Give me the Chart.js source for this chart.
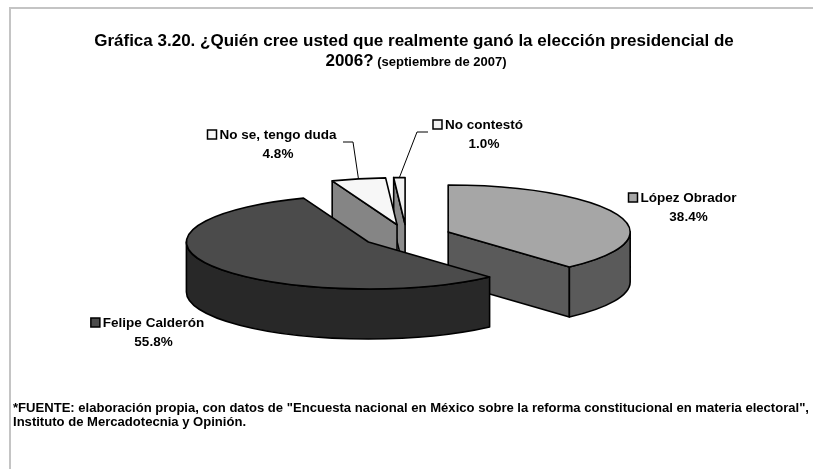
<!DOCTYPE html>
<html>
<head>
<meta charset="utf-8">
<script src="https://cdn.jsdelivr.net/npm/chart.js@4.4.1/dist/chart.umd.min.js"></script>
<style>
  html, body { margin: 0; padding: 0; background: #ffffff; overflow: hidden; }
  canvas { display: block; }
</style>
</head>
<body>
<canvas id="chart" width="813" height="469"></canvas>
<script>
// Survey answers, September 2007
const categories = ['López Obrador', 'Felipe Calderón', 'No se, tengo duda', 'No contestó'];
const shares = [38.4, 55.8, 4.8, 1.0];
const topColors = ['#a6a6a6', '#4b4b4b', '#f7f7f7', '#f2f2f2'];
const sideColors = ['#5a5a5a', '#282828', '#858585', '#8c8c8c'];

const titleLine1 = 'Gráfica 3.20. ¿Quién cree usted que realmente ganó la elección presidencial de';
const titleYear = '2006?';
const titleDate = ' (septiembre de 2007)';
const sourceLines = [
  '*FUENTE: elaboración propia, con datos de "Encuesta nacional en México sobre la reforma constitucional en materia electoral",',
  'Instituto de Mercadotecnia y Opinión.'
];

const FONT = "'Liberation Sans', Arial, sans-serif";

// Draws text starting at x, stretched horizontally by sx
function stretchedText(ctx, text, x, y, sx) {
  ctx.save();
  ctx.translate(x, y);
  ctx.scale(sx, 1);
  ctx.textAlign = 'left';
  ctx.fillText(text, 0, 0);
  ctx.restore();
}

// White page with the grey frame, title and source note
const framePlugin = {
  id: 'frame',
  beforeDraw(chart) {
    const ctx = chart.ctx;
    ctx.save();
    ctx.fillStyle = '#ffffff';
    ctx.fillRect(0, 0, chart.width, chart.height);
    ctx.strokeStyle = '#c4c4c4';
    ctx.lineWidth = 2;
    ctx.strokeRect(10, 8, chart.width + 20, chart.height + 20);
    ctx.restore();
  },
  afterDraw(chart) {
    const ctx = chart.ctx;
    ctx.save();
    ctx.fillStyle = '#000000';
    ctx.textBaseline = 'alphabetic';
    ctx.textAlign = 'center';
    ctx.font = 'bold 17px ' + FONT;
    ctx.fillText(titleLine1, 414, 46);
    // second line mixes two sizes
    ctx.font = 'bold 17px ' + FONT;
    const w1 = ctx.measureText(titleYear).width;
    ctx.font = 'bold 13px ' + FONT;
    const w2 = ctx.measureText(titleDate).width;
    const x0 = 416 - (w1 + w2) / 2;
    ctx.textAlign = 'left';
    ctx.font = 'bold 17px ' + FONT;
    ctx.fillText(titleYear, x0, 66);
    ctx.font = 'bold 13px ' + FONT;
    ctx.fillText(titleDate, x0 + w1, 66);
    // source note, set to span the width of the frame
    ctx.font = 'bold 12px ' + FONT;
    const sw = ctx.measureText(sourceLines[0]).width;
    const sx = 796 / sw;
    stretchedText(ctx, sourceLines[0], 13, 412, sx);
    stretchedText(ctx, sourceLines[1], 13, 426, sx);
    ctx.restore();
  }
};

// Extruded, exploded pie built from the arc elements computed by Chart.js
function drawSlice(ctx, s, top, side, depth, lw) {
  const px = t => s.cx + s.rx * Math.cos(t);
  const py = t => s.cy + s.ry * Math.sin(t);
  ctx.save();
  ctx.lineWidth = lw;
  ctx.strokeStyle = '#000000';
  ctx.lineJoin = 'round';
  const cutFace = t => {
    ctx.beginPath();
    ctx.moveTo(s.cx, s.cy);
    ctx.lineTo(px(t), py(t));
    ctx.lineTo(px(t), py(t) + depth);
    ctx.lineTo(s.cx, s.cy + depth);
    ctx.closePath();
    ctx.fillStyle = side;
    ctx.fill();
    ctx.stroke();
  };
  if (Math.cos(s.a) < -1e-6) cutFace(s.a);
  if (Math.cos(s.b) > 1e-6) cutFace(s.b);
  // outer wall on the near half of the ellipse
  [[0, Math.PI], [2 * Math.PI, 3 * Math.PI]].forEach(([lo, hi]) => {
    const u = Math.max(lo, s.a), v = Math.min(hi, s.b);
    if (v - u > 1e-6) {
      ctx.beginPath();
      ctx.ellipse(s.cx, s.cy, s.rx, s.ry, 0, u, v);
      ctx.lineTo(px(v), py(v) + depth);
      ctx.ellipse(s.cx, s.cy + depth, s.rx, s.ry, 0, v, u, true);
      ctx.closePath();
      ctx.fillStyle = side;
      ctx.fill();
      ctx.stroke();
    }
  });
  // top face
  ctx.beginPath();
  ctx.moveTo(s.cx, s.cy);
  ctx.ellipse(s.cx, s.cy, s.rx, s.ry, 0, s.a, s.b);
  ctx.closePath();
  ctx.fillStyle = top;
  ctx.fill();
  ctx.stroke();
  ctx.restore();
}

const pie3dPlugin = {
  id: 'pie3d',
  beforeDatasetDraw(chart, args, opts) {
    const ctx = chart.ctx;
    const ds = chart.data.datasets[args.index];
    const slices = args.meta.data.map((arc, i) => {
      const p = arc.getProps(['x', 'y', 'startAngle', 'endAngle', 'outerRadius'], true);
      const mid = (p.startAngle + p.endAngle) / 2;
      const rx = p.outerRadius, ry = p.outerRadius * opts.tilt;
      return {
        i, mid, rx, ry, a: p.startAngle, b: p.endAngle,
        cx: p.x + Math.cos(mid) * opts.explode,
        cy: p.y + Math.sin(mid) * opts.explode * opts.tilt
      };
    });
    slices.slice()
      .sort((p, q) => Math.sin(p.mid) - Math.sin(q.mid))
      .forEach(s => drawSlice(ctx, s, ds.backgroundColor[s.i], opts.sideColors[s.i], opts.depth, opts.lineWidth));
    chart.$slices = slices;
    return false;
  },
  afterDatasetsDraw(chart, args, opts) {
    const ctx = chart.ctx;
    const ds = chart.data.datasets[0];
    const slices = chart.$slices || [];
    ctx.save();
    slices.forEach(s => {
      const lab = opts.labels[s.i];
      const name = chart.data.labels[s.i];
      const value = ds.data[s.i].toFixed(1) + '%';
      // leader line to the middle of the slice rim
      if (lab.leader) {
        ctx.beginPath();
        ctx.strokeStyle = '#000000';
        ctx.lineWidth = 1;
        ctx.moveTo(lab.leader[0][0], lab.leader[0][1]);
        for (let k = 1; k < lab.leader.length; k++) ctx.lineTo(lab.leader[k][0], lab.leader[k][1]);
        ctx.lineTo(s.cx + s.rx * Math.cos(s.mid), s.cy + s.ry * Math.sin(s.mid));
        ctx.stroke();
      }
      ctx.font = 'bold 13.5px ' + FONT;
      ctx.fillStyle = '#000000';
      ctx.textAlign = 'center';
      ctx.textBaseline = 'alphabetic';
      const w = ctx.measureText(name).width;
      ctx.fillText(name, lab.x, lab.y);
      ctx.fillText(value, lab.x, lab.y + opts.lineGap);
      // legend key
      const k = 9;
      const kx = lab.x - w / 2 - 3 - k, ky = lab.y - 9;
      ctx.fillStyle = ds.backgroundColor[s.i];
      ctx.fillRect(kx, ky, k, k);
      ctx.lineWidth = 1.5;
      ctx.strokeStyle = '#000000';
      ctx.strokeRect(kx, ky, k, k);
    });
    ctx.restore();
  }
};

new Chart(document.getElementById('chart'), {
  type: 'pie',
  data: {
    labels: categories,
    datasets: [{ data: shares, backgroundColor: topColors, borderWidth: 0 }]
  },
  options: {
    responsive: false,
    animation: false,
    devicePixelRatio: 1,
    events: [],
    radius: 182,
    layout: { padding: { top: 3, bottom: 0, left: 0, right: 0 } },
    plugins: {
      legend: { display: false },
      tooltip: { enabled: false },
      title: { display: false },
      pie3d: {
        tilt: 0.258,
        depth: 50,
        explode: 44.6,
        lineWidth: 1.6,
        sideColors: sideColors,
        lineGap: 18.5,
        labels: [
          { x: 688.5, y: 202 },
          { x: 153.5, y: 327 },
          { x: 278, y: 139, leader: [[343, 142], [353, 142]] },
          { x: 484, y: 129, leader: [[428, 132], [417, 132]] }
        ]
      }
    }
  },
  plugins: [framePlugin, pie3dPlugin]
});
</script>
</body>
</html>
